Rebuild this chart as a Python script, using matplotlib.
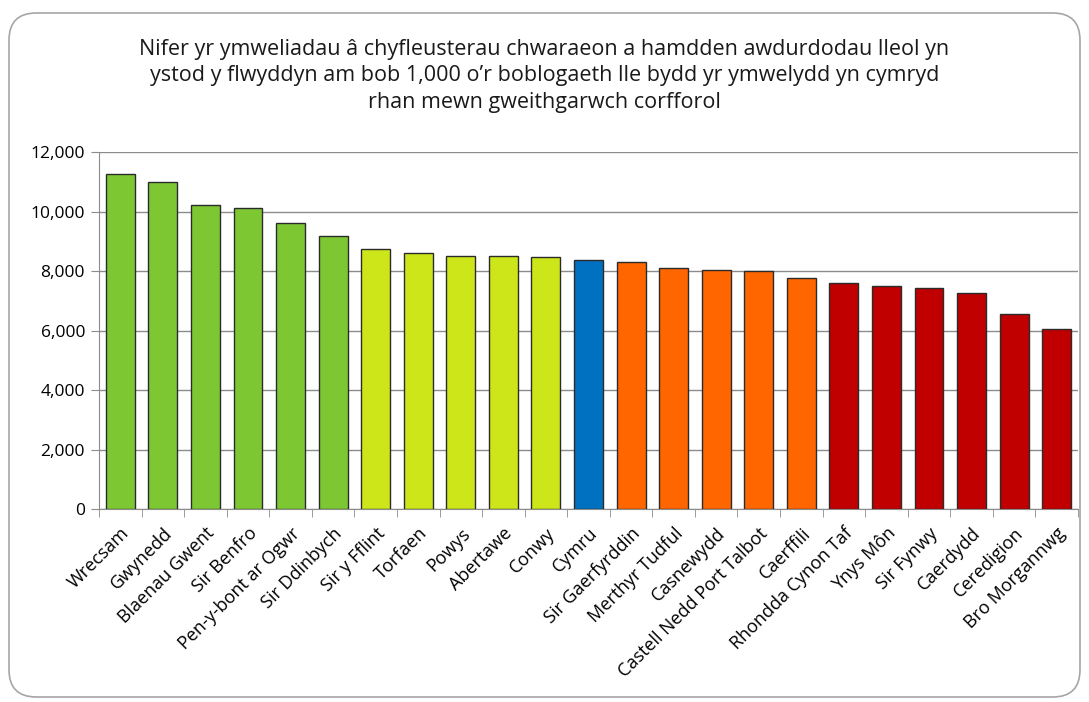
import matplotlib.pyplot as plt
from matplotlib.patches import FancyBboxPatch
from matplotlib.ticker import FuncFormatter, FixedLocator

# data
areas = ['Wrecsam', 'Gwynedd', 'Blaenau Gwent', 'Sir Benfro', 'Pen-y-bont ar Ogwr',
         'Sir Ddinbych', 'Sir y Fflint', 'Torfaen', 'Powys', 'Abertawe', 'Conwy',
         'Cymru', 'Sir Gaerfyrddin', 'Merthyr Tudful', 'Casnewydd',
         'Castell Nedd Port Talbot', 'Caerffili', 'Rhondda Cynon Taf', 'Ynys Môn',
         'Sir Fynwy', 'Caerdydd', 'Ceredigion', 'Bro Morgannwg']
visits = [11260, 11000, 10220, 10130, 9610, 9170, 8730, 8600, 8520, 8520, 8460,
          8380, 8290, 8110, 8030, 7990, 7780, 7610, 7510, 7430, 7260, 6560, 6060]
groups = ['top', 'top', 'top', 'top', 'top', 'top', 'upper', 'upper', 'upper',
          'upper', 'upper', 'wales', 'lower', 'lower', 'lower', 'lower', 'lower',
          'bottom', 'bottom', 'bottom', 'bottom', 'bottom', 'bottom']

group_colours = {'top': '#7DC832', 'upper': '#CCE619', 'wales': '#0070C0',
                 'lower': '#FF6600', 'bottom': '#C00000'}

title = ("Nifer yr ymweliadau â chyfleusterau chwaraeon a hamdden awdurdodau lleol yn\n"
         "ystod y flwyddyn am bob 1,000 o’r boblogaeth lle bydd yr ymwelydd yn cymryd\n"
         "rhan mewn gweithgarwch corfforol")

plt.rcParams['font.family'] = ['Open Sans', 'DejaVu Sans']

fig = plt.figure(figsize=(10.89, 7.02), dpi=100)
ax = fig.add_axes([99 / 1089, 1 - 509 / 702, (1078 - 99) / 1089, (509 - 152) / 702])

# rounded chart border
border = FancyBboxPatch((9 / 1089, 5 / 702), 1071 / 1089, 684 / 702,
                        boxstyle='round,pad=0,rounding_size=0.025',
                        transform=fig.transFigure, facecolor='none',
                        edgecolor='#A6A6A6', linewidth=1.2, mutation_aspect=1089 / 702)
fig.patches.append(border)

x = range(len(areas))
colours = [group_colours[g] for g in groups]
ax.bar(x, visits, width=0.68, color=colours, edgecolor='#2b2b2b', linewidth=1.0, zorder=3)

ax.set_xlim(-0.5, len(areas) - 0.5)
ax.set_ylim(0, 12000)
ax.set_yticks(range(0, 12001, 2000))
ax.yaxis.set_major_formatter(FuncFormatter(lambda v, p: f'{int(v):,}'))
ax.grid(axis='y', color='#8c8c8c', linewidth=1.0, zorder=0)

ax.set_xticks(list(x))
ax.set_xticklabels(areas, rotation=45, ha='right', rotation_mode='anchor', fontsize=13)
ax.xaxis.set_minor_locator(FixedLocator([i - 0.5 for i in range(len(areas) + 1)]))
ax.tick_params(axis='x', which='major', length=0, pad=11)
ax.tick_params(axis='x', which='minor', length=6, color='#8c8c8c', direction='out')
ax.tick_params(axis='y', length=6, color='#8c8c8c', labelsize=12.5, pad=4)

for side in ['top', 'right']:
    ax.spines[side].set_visible(False)
for side in ['left', 'bottom']:
    ax.spines[side].set_color('#8c8c8c')

fig.text(0.5, 1 - 76 / 702, title, ha='center', va='center', fontsize=15.5,
         linespacing=1.35, color='#1a1a1a')

fig.savefig('out.png', dpi=100)
